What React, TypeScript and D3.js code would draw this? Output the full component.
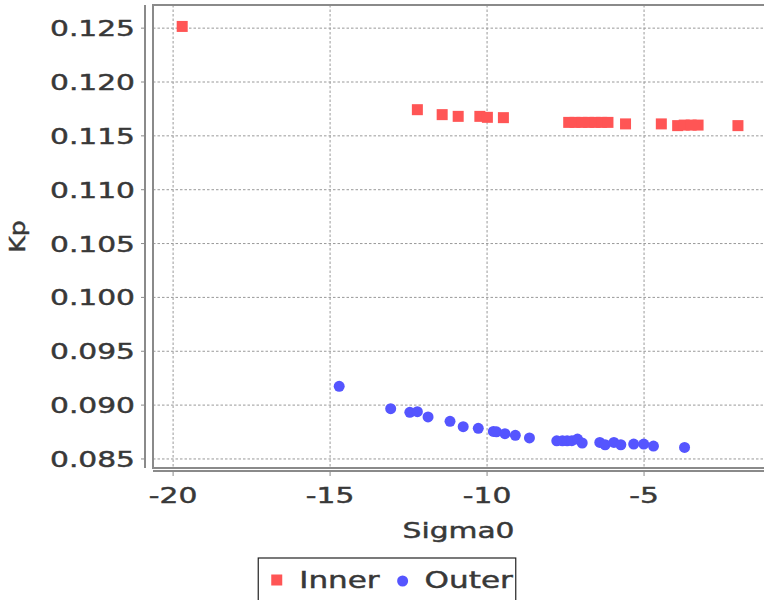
import React, { useEffect, useRef } from 'react';
import * as d3 from 'd3';

// Inner series (red squares)
const innerSigma = [-19.71, -12.22, -11.43, -10.92, -10.23, -9.99, -9.48, -7.40, -7.20, -6.98, -6.77, -6.56, -6.35, -6.15, -5.59, -4.45, -3.93, -3.72, -3.50, -3.28, -2.01];
const innerKp = [0.12516, 0.11743, 0.11697, 0.11681, 0.11681, 0.11672, 0.11669, 0.11625, 0.11625, 0.11625, 0.11625, 0.11625, 0.11625, 0.11625, 0.11611, 0.11611, 0.11595, 0.11600, 0.11600, 0.11600, 0.11595];

// Outer series (blue circles)
const outerSigma = [-14.71, -13.07, -12.46, -12.22, -11.88, -11.18, -10.76, -10.28, -9.80, -9.70, -9.43, -9.10, -8.65, -7.78, -7.60, -7.45, -7.30, -7.12, -6.97, -6.41, -6.24, -5.96, -5.74, -5.33, -5.01, -4.70, -3.71];
const outerKp = [0.09174, 0.08967, 0.08933, 0.08939, 0.08890, 0.08849, 0.08800, 0.08784, 0.08756, 0.08752, 0.08735, 0.08719, 0.08695, 0.08668, 0.08668, 0.08668, 0.08670, 0.08685, 0.08648, 0.08653, 0.08632, 0.08653, 0.08632, 0.08638, 0.08638, 0.08620, 0.08607];

const xTicks = [-20, -15, -10, -5];
const yTicks = [0.085, 0.09, 0.095, 0.1, 0.105, 0.11, 0.115, 0.12, 0.125];
const seriesNames = ['Inner', 'Outer'];

const W = 764;
const H = 600;
const FONT = '"DejaVu Sans", Verdana, sans-serif';
const STRETCH = 1.35;
const RED = '#ff5555';
const BLUE = '#5555ff';
const TEXT = '#383838';

const App: React.FC = () => {
  const svgRef = useRef<SVGSVGElement>(null);

  useEffect(() => {
    document.body.style.margin = '0';
    if (!svgRef.current) return;
    const svg = d3.select(svgRef.current);
    svg.selectAll('*').remove();

    const left = 153, top = 5, right = 764, bottom = 468;
    const x = d3.scaleLinear().domain([-20.64, -1.18]).range([left, right]);
    const y = d3.scaleLinear().domain([0.08416, 0.12715]).range([bottom, top]);

    svg.append('rect').attr('width', W).attr('height', H).attr('fill', '#fff');

    // grid
    const grid = svg.append('g')
      .attr('stroke', '#999')
      .attr('stroke-width', 1)
      .attr('stroke-dasharray', '2.5,2');
    xTicks.forEach(t => {
      grid.append('line').attr('x1', x(t)).attr('x2', x(t)).attr('y1', top).attr('y2', bottom);
    });
    yTicks.forEach(t => {
      grid.append('line').attr('x1', left).attr('x2', right).attr('y1', y(t)).attr('y2', y(t));
    });

    // plot outline
    svg.append('rect')
      .attr('x', left).attr('y', top)
      .attr('width', right - left + 4).attr('height', bottom - top)
      .attr('fill', 'none').attr('stroke', '#8a8a8a').attr('stroke-width', 2);

    const stretched = (g: d3.Selection<SVGGElement, unknown, null, undefined>, tx: number, ty: number, txt: string, anchor: string, size: number) =>
      g.append('text')
        .attr('transform', `translate(${tx},${ty}) scale(${STRETCH},1)`)
        .attr('text-anchor', anchor)
        .attr('font-family', FONT)
        .attr('font-size', size)
        .attr('fill', TEXT)
        .attr('stroke', TEXT)
        .attr('stroke-width', 0.45)
        .text(txt);

    // y axis
    const yAxisX = 145;
    const ya = svg.append('g');
    ya.append('line').attr('x1', yAxisX).attr('x2', yAxisX).attr('y1', top).attr('y2', bottom)
      .attr('stroke', '#8a8a8a').attr('stroke-width', 2);
    yTicks.forEach(t => {
      ya.append('line').attr('x1', yAxisX - 4).attr('x2', yAxisX).attr('y1', y(t)).attr('y2', y(t))
        .attr('stroke', '#8a8a8a').attr('stroke-width', 1);
      stretched(ya, 135, y(t) + 8, d3.format('.3f')(t), 'end', 22);
    });
    ya.append('text')
      .attr('transform', `translate(25,${(top + bottom) / 2}) rotate(-90) scale(1.15,1)`)
      .attr('text-anchor', 'middle')
      .attr('font-family', FONT)
      .attr('font-size', 22)
      .attr('fill', TEXT)
      .attr('stroke', TEXT)
      .attr('stroke-width', 0.45)
      .text('Kp');

    // x axis
    const xAxisY = 471;
    const xa = svg.append('g');
    xa.append('line').attr('x1', left).attr('x2', right).attr('y1', xAxisY).attr('y2', xAxisY)
      .attr('stroke', '#8a8a8a').attr('stroke-width', 2);
    xTicks.forEach(t => {
      xa.append('line').attr('x1', x(t)).attr('x2', x(t)).attr('y1', xAxisY).attr('y2', xAxisY + 5)
        .attr('stroke', '#8a8a8a').attr('stroke-width', 1);
      stretched(xa, x(t), 503, String(t), 'middle', 22);
    });
    stretched(xa, (left + right) / 2, 538, 'Sigma0', 'middle', 22);

    // points
    const pts = svg.append('g');
    const sq = 11;
    innerSigma.forEach((s, i) => {
      pts.append('rect')
        .attr('x', x(s) - sq / 2).attr('y', y(innerKp[i]) - sq / 2)
        .attr('width', sq).attr('height', sq)
        .attr('fill', RED);
    });
    outerSigma.forEach((s, i) => {
      pts.append('circle')
        .attr('cx', x(s)).attr('cy', y(outerKp[i]))
        .attr('r', 5.5)
        .attr('fill', BLUE);
    });

    // legend
    const lg = svg.append('g');
    const box = lg.append('rect').attr('fill', '#fff').attr('stroke', '#222').attr('stroke-width', 1.2);
    const ly = 580;
    let cursor = 0;
    const parts: { kind: string; at: number; w?: number }[] = [];
    seriesNames.forEach((name, i) => {
      cursor += i === 0 ? 13 : 17;
      parts.push({ kind: i === 0 ? 'square' : 'circle', at: cursor });
      cursor += 28;
      const t = stretched(lg, cursor, ly + 8, name, 'start', 23);
      const w = (t.node() as SVGTextElement).getComputedTextLength() * STRETCH;
      parts.push({ kind: 'text', at: cursor, w });
      t.remove();
      cursor += w;
    });
    const total = cursor + 3;
    const lx = 387 - total / 2;
    box.attr('x', lx).attr('y', 558).attr('width', total).attr('height', 44);
    seriesNames.forEach((name, i) => {
      const shape = parts[i * 2];
      const label = parts[i * 2 + 1];
      if (shape.kind === 'square') {
        lg.append('rect').attr('x', lx + shape.at).attr('y', ly - 5.5).attr('width', 11).attr('height', 11).attr('fill', RED);
      } else {
        lg.append('circle').attr('cx', lx + shape.at + 6).attr('cy', ly + 1).attr('r', 5.5).attr('fill', BLUE);
      }
      stretched(lg, lx + label.at, ly + 8, name, 'start', 23);
    });
  }, []);

  return <svg ref={svgRef} width={W} height={H} style={{ display: 'block' }} />;
};

export default App;
